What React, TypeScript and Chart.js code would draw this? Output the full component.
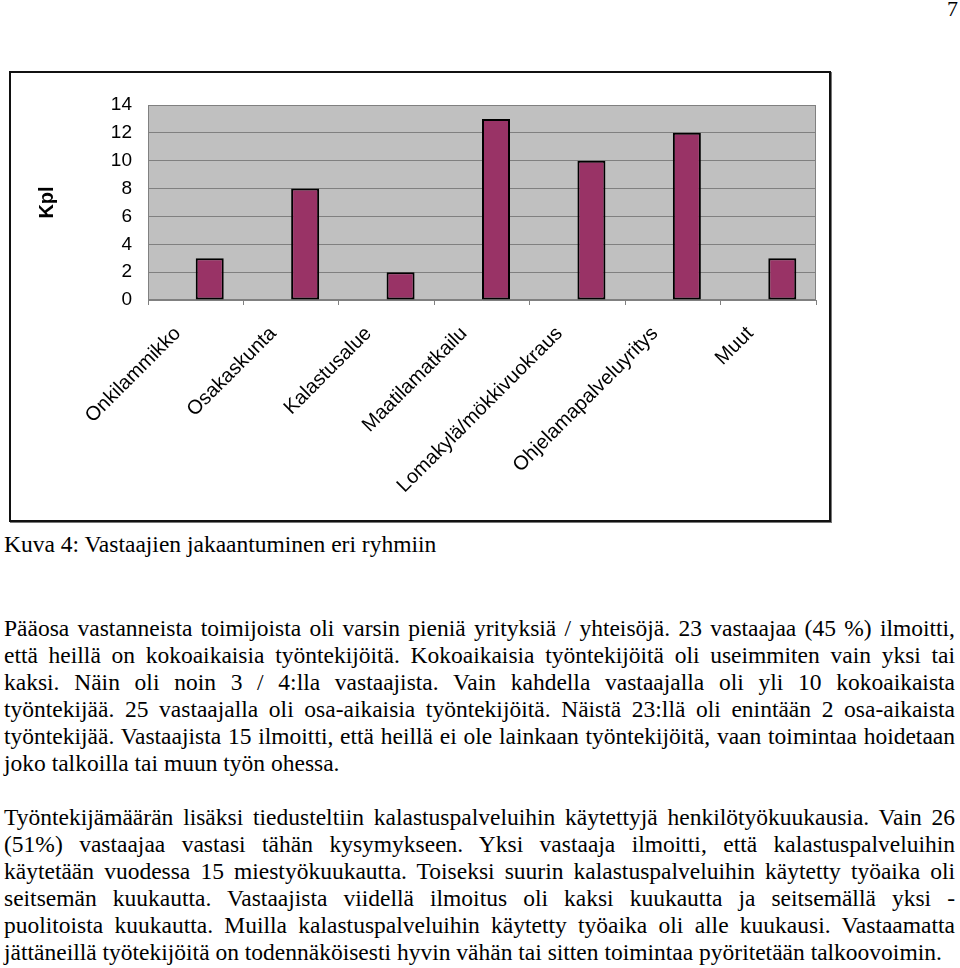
import React, { useEffect, useRef } from "react";
import { Chart, registerables } from "chart.js";

Chart.register(...registerables);

const categories = [
  "Onkilammikko",
  "Osakaskunta",
  "Kalastusalue",
  "Maatilamatkailu",
  "Lomakylä/mökkivuokraus",
  "Ohjelamapalveluyritys",
  "Muut",
];
const counts = [3, 8, 2, 13, 10, 12, 3];
// Excel chart had an empty first series, which pushes the bars right of centre
const emptySeries = [null, null, null, null, null, null, null];
const yMin = 0;
const yMax = 14;
const yStep = 2;
const yTitle = "Kpl";

const caption = "Kuva 4: Vastaajien jakaantuminen eri ryhmiin";
const para1 = [
  "Pääosa vastanneista toimijoista oli varsin pieniä yrityksiä / yhteisöjä. 23 vastaajaa (45 %) ilmoitti,",
  "että heillä on kokoaikaisia työntekijöitä. Kokoaikaisia työntekijöitä oli useimmiten vain yksi tai",
  "kaksi. Näin oli noin 3 / 4:lla vastaajista. Vain kahdella vastaajalla oli yli 10 kokoaikaista",
  "työntekijää. 25 vastaajalla oli osa-aikaisia työntekijöitä. Näistä 23:llä oli enintään 2 osa-aikaista",
  "työntekijää. Vastaajista 15 ilmoitti, että heillä ei ole lainkaan työntekijöitä, vaan toimintaa hoidetaan",
  "joko talkoilla tai muun työn ohessa.",
];
const para2 = [
  "Työntekijämäärän lisäksi tiedusteltiin kalastuspalveluihin käytettyjä henkilötyökuukausia. Vain 26",
  "(51%) vastaajaa vastasi tähän kysymykseen. Yksi vastaaja ilmoitti, että kalastuspalveluihin",
  "käytetään vuodessa 15 miestyökuukautta. Toiseksi suurin kalastuspalveluihin käytetty työaika oli",
  "seitsemän kuukautta. Vastaajista viidellä ilmoitus oli kaksi kuukautta ja seitsemällä yksi -",
  "puolitoista kuukautta. Muilla kalastuspalveluihin käytetty työaika oli alle kuukausi. Vastaamatta",
  "jättäneillä työtekijöitä on todennäköisesti hyvin vähän tai sitten toimintaa pyöritetään talkoovoimin.",
];

const SANS = "'Liberation Sans', Arial, sans-serif";
const SERIF = "'Liberation Serif', 'Times New Roman', serif";

const plotArea = {
  id: "plotArea",
  beforeDraw(chart: any) {
    const { ctx, chartArea: a } = chart;
    ctx.save();
    ctx.fillStyle = "#c0c0c0";
    ctx.fillRect(a.left, a.top, a.right - a.left, a.bottom - a.top);
    ctx.restore();
  },
  beforeDatasetsDraw(chart: any) {
    const { ctx, chartArea: a } = chart;
    ctx.save();
    ctx.strokeStyle = "#808080";
    ctx.lineWidth = 1;
    ctx.strokeRect(a.left + 0.5, a.top + 0.5, a.right - a.left - 1, a.bottom - a.top - 1);
    ctx.restore();
  },
};

function BarChart() {
  const ref = useRef<HTMLCanvasElement | null>(null);
  useEffect(() => {
    if (!ref.current) return;
    const chart = new Chart(ref.current, {
      type: "bar",
      data: {
        labels: categories,
        datasets: [
          { data: emptySeries as any, backgroundColor: "transparent" },
          {
            data: counts,
            backgroundColor: "#993366",
            borderColor: "#000000",
            borderWidth: 2,
            borderSkipped: false,
          },
        ],
      },
      options: {
        responsive: false,
        animation: false,
        events: [],
        layout: { padding: { left: 0, top: 32, right: 13, bottom: 0 } },
        datasets: { bar: { categoryPercentage: 0.587, barPercentage: 1 } },
        plugins: { legend: { display: false }, tooltip: { enabled: false } },
        scales: {
          x: {
            afterFit(scale: any) {
              scale.height = 220;
              scale.paddingLeft = 0;
              scale.paddingRight = 0;
            },
            grid: {
              display: true,
              drawOnChartArea: false,
              drawTicks: true,
              tickLength: 5,
              color: "#808080",
              offset: true,
            },
            border: { display: true, color: "#808080", width: 1 },
            ticks: {
              autoSkip: false,
              maxRotation: 45,
              minRotation: 45,
              padding: 17,
              labelOffset: -18,
              color: "#000000",
              font: { family: SANS, size: 20 },
            },
          },
          y: {
            min: yMin,
            max: yMax,
            afterFit(scale: any) {
              scale.width = 137;
            },
            grid: { color: "#808080", lineWidth: 1, drawTicks: false },
            border: { display: true, color: "#808080", width: 1 },
            ticks: {
              stepSize: yStep,
              padding: 16,
              color: "#000000",
              font: { family: SANS, size: 19 },
            },
            title: {
              display: true,
              text: yTitle,
              color: "#000000",
              font: { family: SANS, size: 20, weight: "bold" },
              padding: { top: 24, bottom: 0 },
            },
          },
        },
      },
      plugins: [plotArea],
    });
    return () => chart.destroy();
  }, []);
  return <canvas ref={ref} width={818} height={447} style={{ display: "block" }} />;
}

const lineStyle = (justify: boolean): React.CSSProperties => ({
  position: "absolute",
  left: 4,
  width: 951,
  height: 27,
  lineHeight: "27px",
  whiteSpace: "nowrap",
  textAlign: justify ? "justify" : "left",
  textAlignLast: justify ? "justify" : "left",
  fontFamily: SERIF,
  fontSize: 23.5,
  color: "#000",
});

export default function App() {
  return (
    <div
      style={{
        position: "absolute",
        left: 0,
        top: 0,
        width: 960,
        height: 968,
        background: "#fff",
        overflow: "hidden",
      }}
    >
      <div
        style={{
          position: "absolute",
          right: 2,
          top: -4,
          fontFamily: SERIF,
          fontSize: 22,
          color: "#000",
        }}
      >
        7
      </div>
      <div
        style={{
          position: "absolute",
          left: 9,
          top: 71,
          width: 818,
          height: 447,
          border: "2px solid #111",
          boxShadow: "1px 1px 0 #777",
          background: "#fff",
        }}
      >
        <BarChart />
      </div>
      <div style={{ ...lineStyle(false), top: 531 }}>{caption}</div>
      {para1.map((t, i) => (
        <div key={"a" + i} style={{ ...lineStyle(i < para1.length - 1), top: 615 + i * 27 }}>
          {t}
        </div>
      ))}
      {para2.map((t, i) => (
        <div key={"b" + i} style={{ ...lineStyle(i < para2.length - 1), top: 804 + i * 27 }}>
          {t}
        </div>
      ))}
    </div>
  );
}
